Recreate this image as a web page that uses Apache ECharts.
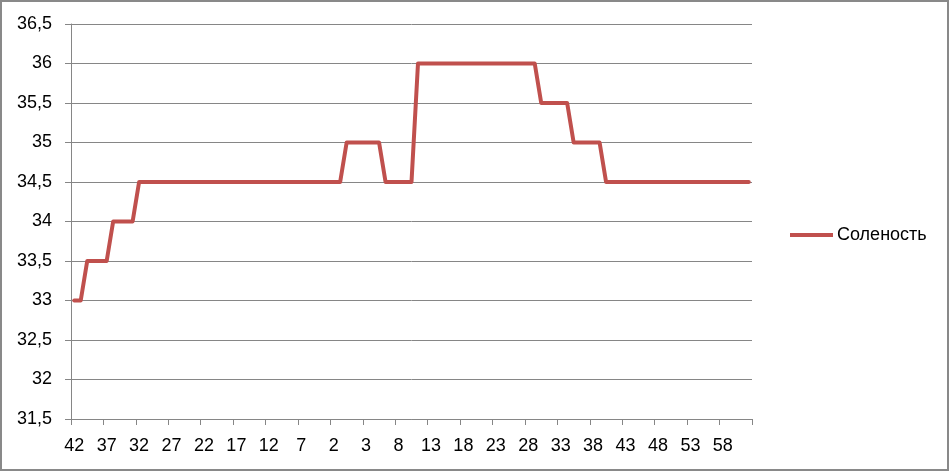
<!DOCTYPE html>
<html>
<head>
<meta charset="utf-8">
<script src="https://cdn.jsdelivr.net/npm/echarts@6/dist/echarts.min.js"></script>
<style>
html,body{margin:0;padding:0;background:#fff;}
#wrap{position:absolute;left:0;top:0;width:949px;height:471px;box-sizing:border-box;border:2px solid #898989;background:#fff;}
#chart{position:absolute;left:-2px;top:-2px;width:949px;height:471px;}
</style>
</head>
<body>
<div id="wrap"><div id="chart"></div></div>
<script>
var categories = ['42','41','40','39','38','37','36','35','34','33','32','31','30','29','28','27','26','25','24','23','22','21','20','19','18','17','16','15','14','13','12','11','10','9','8','7','6','5','4','3','2','1','0',
'1','2','3','4','5','6','7','8','9','10','11','12','13','14','15','16','17','18','19','20','21','22','23','24','25','26','27','28','29','30','31','32','33','34','35','36','37','38','39','40','41','42','43','44','45','46','47','48','49','50','51','52','53','54','55','56','57','58','59','60','61','62'];
var seriesName = 'Соленость';
var salinity = [33,33,33.5,33.5,33.5,33.5,34,34,34,34,
34.5,34.5,34.5,34.5,34.5,34.5,34.5,34.5,34.5,34.5,
34.5,34.5,34.5,34.5,34.5,34.5,34.5,34.5,34.5,34.5,
34.5,34.5,34.5,34.5,34.5,34.5,34.5,34.5,34.5,34.5,
34.5,34.5,35,35,35,35,35,35,34.5,34.5,
34.5,34.5,34.5,36,36,36,36,36,36,36,
36,36,36,36,36,36,36,36,36,36,
36,36,35.5,35.5,35.5,35.5,35.5,35,35,35,
35,35,34.5,34.5,34.5,34.5,34.5,34.5,34.5,34.5,
34.5,34.5,34.5,34.5,34.5,34.5,34.5,34.5,34.5,34.5,
34.5,34.5,34.5,34.5,34.5];
var yMin = 31.5, yMax = 36.5, yStep = 0.5;

var chart = echarts.init(document.getElementById('chart'), null, {renderer:'canvas'});
var font = 'Liberation Sans';
chart.setOption({
  animation:false,
  backgroundColor:'transparent',
  grid:{left:71, right:197, top:24, bottom:52, containLabel:false},
  legend:{
    left:785, top:221, orient:'vertical',
    icon:'rect', itemWidth:43, itemHeight:4, itemGap:5,
    textStyle:{fontFamily:font, fontSize:18, color:'#000', padding:[0,0,0,-1]},
    data:[seriesName]
  },
  xAxis:{
    type:'category', data:categories, boundaryGap:true,
    axisLine:{show:true, lineStyle:{color:'#868686', width:1}},
    axisTick:{show:true, interval:4, length:6, lineStyle:{color:'#868686'}},
    axisLabel:{interval:4, margin:18, fontFamily:font, fontSize:18, color:'#000'},
    splitLine:{show:false}
  },
  yAxis:{
    type:'value', min:yMin, max:yMax, interval:yStep,
    axisLine:{show:true, lineStyle:{color:'#868686', width:1}},
    axisTick:{show:true, length:6, lineStyle:{color:'#868686'}},
    axisLabel:{margin:19, fontFamily:font, fontSize:18, color:'#000',
      formatter:function(v){return String(v).replace('.', ',');}},
    splitLine:{show:true, lineStyle:{color:'#868686', width:1}}
  },
  series:[{
    name:seriesName, type:'line', data:salinity, symbol:'none',
    color:'#C0504D',
    lineStyle:{color:'#C0504D', width:4, cap:'round', join:'round'}
  }]
});
</script>
</body>
</html>
